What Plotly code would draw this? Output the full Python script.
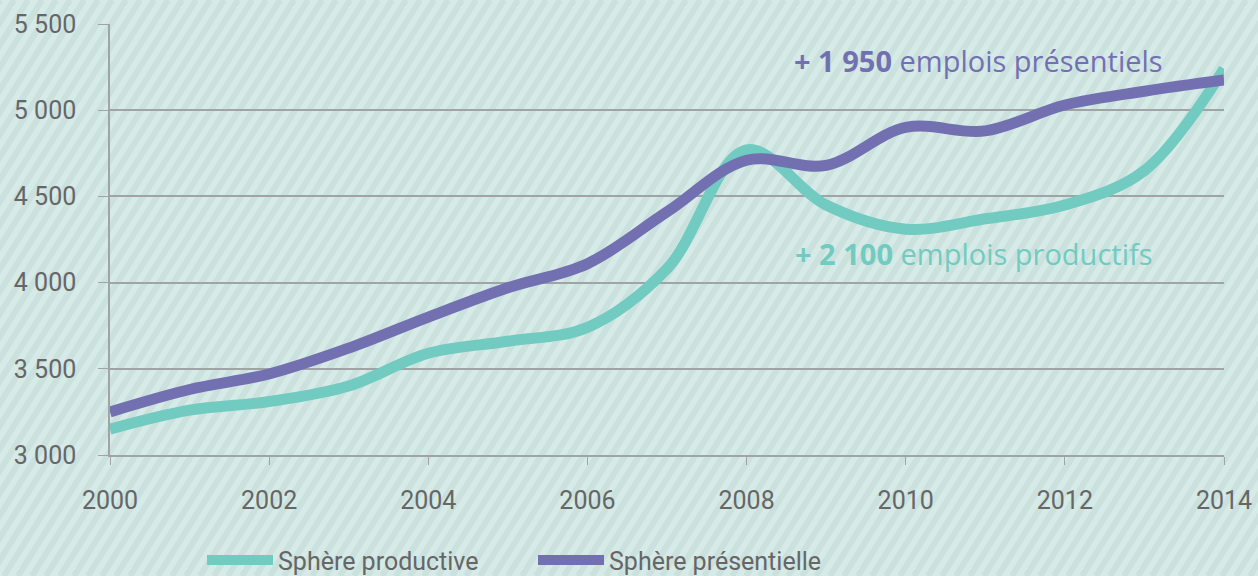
import plotly.graph_objects as go

years = list(range(2000, 2015))
productive = [3150, 3260, 3310, 3400, 3590, 3660, 3740, 4080, 4770, 4450, 4310, 4370, 4450, 4650, 5240]
presentielle = [3250, 3380, 3470, 3620, 3800, 3970, 4110, 4410, 4710, 4680, 4900, 4880, 5030, 5110, 5175]
y_ticks = [3000, 3500, 4000, 4500, 5000, 5500]
x_ticks = [2000, 2002, 2004, 2006, 2008, 2010, 2012, 2014]

TEAL = "#72cbc0"
PURPLE = "#7370b2"
GRAY = "#666666"
AXIS = "#a0a4a4"

W, H = 1258, 576
L, R, T, B = 110, 34, 24, 121
pw, ph = W - L - R, H - T - B

fig = go.Figure()
fig.add_trace(go.Scatter(x=years, y=productive, mode="lines", name="Sphère productive",
                         line=dict(color=TEAL, width=11, shape="spline", smoothing=1.0)))
fig.add_trace(go.Scatter(x=years, y=presentielle, mode="lines", name="Sphère présentielle",
                         line=dict(color=PURPLE, width=11, shape="spline", smoothing=1.0)))

# decorative diagonal stripes in background
shapes = []
dx = 360
step = 14
px0 = -dx
while px0 < W + 20:
    x0 = (px0 - L) / pw
    x1 = (px0 + dx - L) / pw
    y0 = -(B) / ph
    y1 = (ph + T) / ph
    shapes.append(dict(type="line", xref="paper", yref="paper", x0=x0, y0=y0, x1=x1, y1=y1,
                       line=dict(color="#cbe1de", width=6), layer="below"))
    px0 += step

fig.update_layout(
    width=W, height=H,
    margin=dict(l=L, r=R, t=T, b=B, autoexpand=False),
    paper_bgcolor="#d6eae7",
    plot_bgcolor="rgba(0,0,0,0)",
    separators=", ",
    shapes=shapes,
    font=dict(family="Roboto", color=GRAY, size=25),
    showlegend=True,
    legend=dict(orientation="h", x=0.0826, xanchor="left", y=-0.244, yanchor="middle",
                font=dict(size=25, color=GRAY), bgcolor="rgba(0,0,0,0)", itemwidth=66,
                entrywidth=250),
    xaxis=dict(range=[2000, 2014], tickvals=x_ticks, showgrid=False, showline=True,
               linecolor=AXIS, linewidth=1.5, ticks="outside", ticklen=8, tickcolor=AXIS,
               tickfont=dict(size=25, color=GRAY), zeroline=False, ticklabelstandoff=14),
    yaxis=dict(range=[3000, 5500], tickvals=y_ticks, tickformat=",d", showgrid=True,
               gridcolor=AXIS, gridwidth=1.5, showline=True, linecolor=AXIS, linewidth=1.5,
               ticks="outside", ticklen=10, tickcolor=AXIS, zeroline=False,
               tickfont=dict(size=25, color=GRAY), ticklabelstandoff=17),
    annotations=[
        dict(x=2013.26, y=5291, xref="x", yref="y", xanchor="right", yanchor="middle",
             text="<b>+ 1 950</b> emplois présentiels", showarrow=False,
             font=dict(family="Open Sans", size=29, color=PURPLE)),
        dict(x=2013.13, y=4166, xref="x", yref="y", xanchor="right", yanchor="middle",
             text="<b>+ 2 100</b> emplois productifs", showarrow=False,
             font=dict(family="Open Sans", size=29, color=TEAL)),
    ],
)

fig.write_html("out.html", config={"displayModeBar": False},
               post_script="document.body.style.margin='0';document.body.style.overflow='hidden';")
